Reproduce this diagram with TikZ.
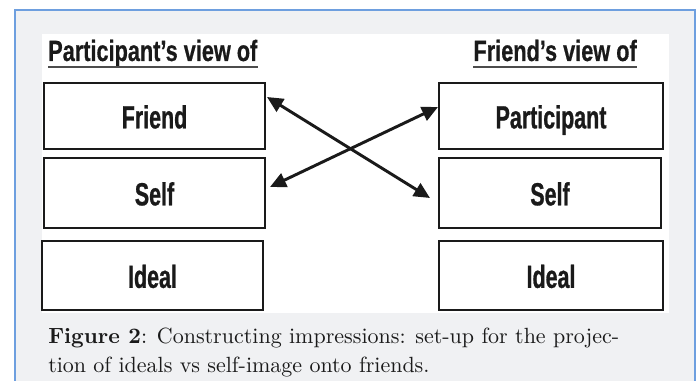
\documentclass[tikz,border=0pt]{standalone}
\usepackage{fontspec}
\usetikzlibrary{arrows.meta}
\newfontfamily\boxfont{Liberation Sans}[FakeStretch=0.67, FakeBold=0.8]
\newfontfamily\headfont{Liberation Sans}[FakeStretch=0.74, FakeBold=0.5]
\newfontfamily\capfont{lmroman10-regular.otf}[BoldFont=lmroman10-bold.otf, FakeStretch=1.0]
\definecolor{panel}{HTML}{F0F1F3}
\definecolor{frameblue}{HTML}{6E9FDF}
\definecolor{ink}{HTML}{1A1A1A}
\tikzset{
  viewbox/.style={draw=ink, line width=1.5pt, fill=white, rectangle, inner sep=0pt, outer sep=0pt,
    minimum width=165.75pt, minimum height=50pt, text height=18.5pt, text depth=0pt,
    font=\boxfont\bfseries\fontsize{24pt}{28pt}\selectfont, text=ink},
  header/.style={inner sep=0pt, font=\headfont\bfseries\fontsize{22pt}{26pt}\selectfont, text=ink},
  underline/.style={draw=black!70, line width=1.2pt},
  link/.style={draw=ink, line width=2.2pt, {Triangle[length=12pt,width=11pt]}-{Triangle[length=12pt,width=11pt]}},
  caption/.style={inner sep=0pt, font=\capfont\fontsize{16.5pt}{20pt}\selectfont, text=ink}
}
\begin{document}
\begin{tikzpicture}[x=0.75pt, y=-0.75pt]
\useasboundingbox (0,0) rectangle (700,381);
\fill[white] (0,0) rectangle (700,381);
\fill[panel] (15,10) rectangle (695,381);
\draw[frameblue, line width=1.2pt] (15,381) -- (15,10) -- (695,10) -- (695,381);
\fill[white] (42,34) rectangle (669,313);
% left column
\node[viewbox, minimum height=49.5pt] (lfriend) at (154.5,116) {Friend};
\node[viewbox, minimum height=52.5pt] (lself) at (154.5,193) {Self};
\node[viewbox, minimum height=51.75pt] (lideal) at (152.5,275.5) {Ideal};
% right column
\node[viewbox, minimum width=168pt, minimum height=49.5pt] (rpart) at (551,116) {Participant};
\node[viewbox, minimum width=166.5pt, minimum height=52.5pt] (rself) at (550,193) {Self};
\node[viewbox, minimum width=168pt, minimum height=51.75pt] (rideal) at (551,275.5) {Ideal};
% headers
\node[header, anchor=base west] (lhead) at (48,61) {Participant’s view of};
\node[header, anchor=base east] (rhead) at (637,61) {Friend’s view of};
\draw[underline] ([shift={(0,6)}]lhead.base west) -- ([shift={(0,6)}]lhead.base east);
\draw[underline] ([shift={(0,6)}]rhead.base west) -- ([shift={(0,6)}]rhead.base east);
% connectors
\coordinate (a1) at ([shift={(2,14)}]lfriend.north east);
\coordinate (b1) at ([shift={(-9,40)}]rself.north west);
\coordinate (a2) at ([shift={(-1,24)}]rpart.north west);
\coordinate (b2) at ([shift={(5,29)}]lself.north east);
\draw[link] (a1) -- (b1);
\draw[link] (a2) -- (b2);
% caption
\node[caption, anchor=base west] (cap1) at (48,343) {\textbf{Figure 2}: Constructing impressions: set-up for the projec-};
\node[caption, anchor=base west] (cap2) at (48,372) {tion of ideals vs self-image onto friends.};
\end{tikzpicture}
\end{document}
